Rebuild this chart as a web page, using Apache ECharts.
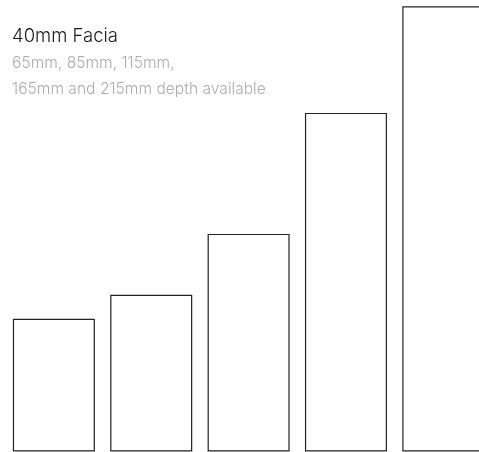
<!DOCTYPE html>
<html><head><meta charset="utf-8">
<script src="https://cdn.jsdelivr.net/npm/echarts@6/dist/echarts.min.js"></script>
<style>html,body{margin:0;padding:0;background:#fff;overflow:hidden}#c{width:492px;height:452px}</style>
</head><body><div id="c"></div>
<script>
const categories = ['65mm', '85mm', '115mm', '165mm', '215mm'];
const values = [29.4, 34.7, 48.2, 75.0, 98.6];
const titleText = '40mm Facia';
const subText = '65mm, 85mm, 115mm,\n165mm and 215mm depth available';

const chart = echarts.init(document.getElementById('c'), null, {renderer: 'canvas'});
chart.setOption({
  animation: false,
  backgroundColor: '#ffffff',
  title: {
    text: titleText,
    subtext: subText,
    left: 7,
    top: 20,
    itemGap: 3,
    textStyle: {fontFamily: 'Inter', fontWeight: 300, fontSize: 18.5, color: '#1a1a1a', lineHeight: 22},
    subtextStyle: {fontFamily: 'Inter', fontWeight: 300, fontSize: 15.6, color: '#acacac', lineHeight: 26.5}
  },
  grid: {left: 5.2, right: 0, top: 0, bottom: 0.5, containLabel: false},
  xAxis: {
    type: 'category', data: categories,
    axisLine: {show: false}, axisTick: {show: false}, axisLabel: {show: false}, splitLine: {show: false}
  },
  yAxis: {
    type: 'value', min: 0, max: 100,
    axisLine: {show: false}, axisTick: {show: false}, axisLabel: {show: false}, splitLine: {show: false}
  },
  series: [{
    type: 'bar', data: values, barWidth: 82,
    itemStyle: {color: '#ffffff', borderColor: '#222222', borderWidth: 1.2}
  }]
});
</script></body></html>
